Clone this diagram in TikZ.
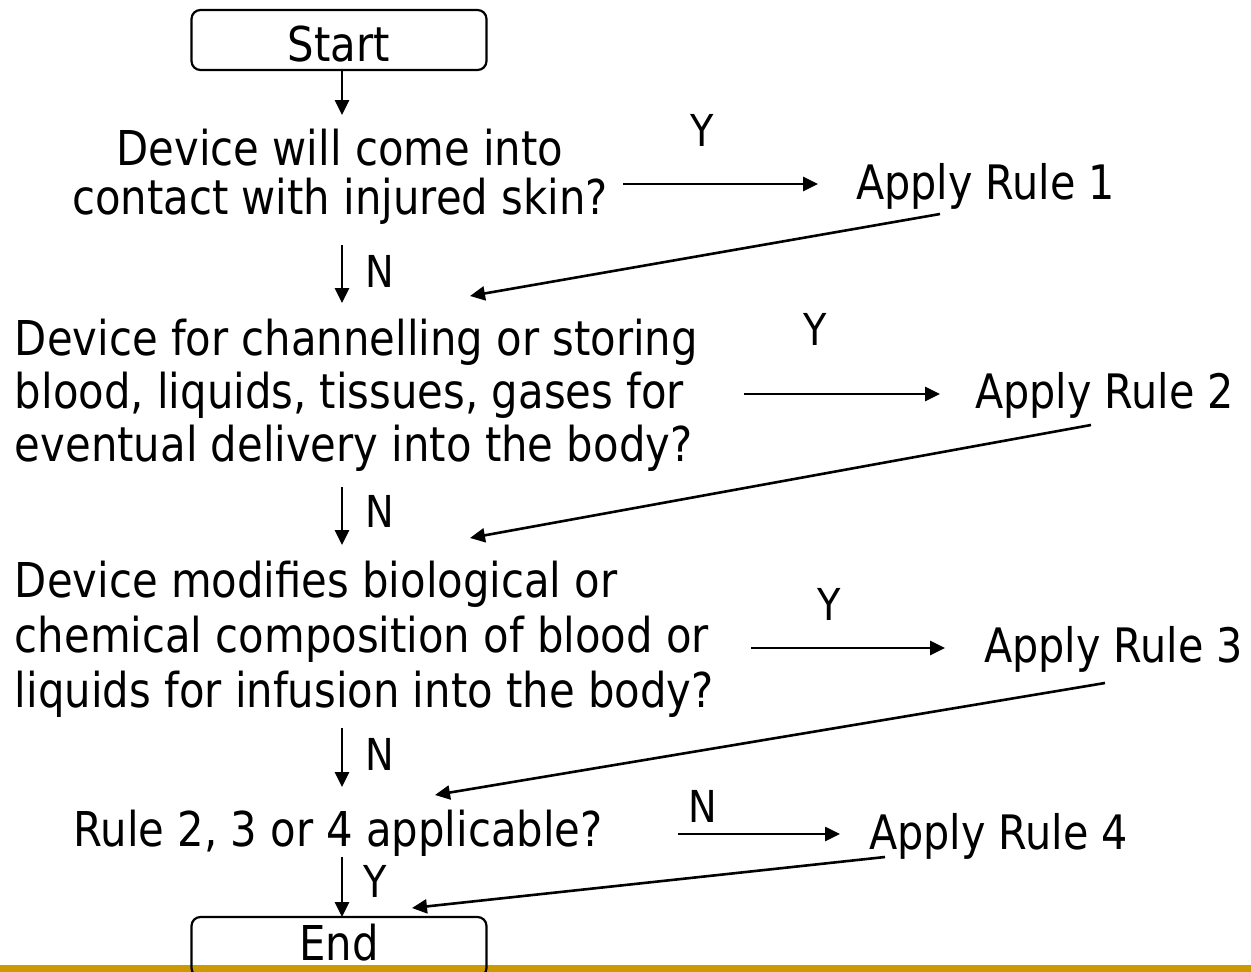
\documentclass[tikz,border=0pt]{standalone}
\usepackage{fontspec}
\setmainfont{DejaVu Sans}[FakeStretch=0.87]
\usetikzlibrary{arrows.meta}
\definecolor{barGold}{RGB}{204,153,0}

\begin{document}
\begin{tikzpicture}[x=1pt,y=-1pt,
  every node/.style={inner sep=0pt, outer sep=0pt},
  flow/.style={line width=2.6pt, -{Triangle[length=15pt,width=14pt]}},
  terminal/.style={draw, line width=2.2pt, rounded corners=9pt,
    minimum width=295pt, minimum height=60pt,
    font=\fontsize{48}{50}\selectfont},
  qtext/.style={font=\fontsize{48}{#1}\selectfont},
  ruletext/.style={font=\fontsize{47.5}{50}\selectfont, anchor=base west},
  lbl/.style={font=\fontsize{44}{46}\selectfont, anchor=base west}
]
\useasboundingbox (0,0) rectangle (1251,972);

% bottom rule of the slide
\fill[barGold] (0,965) rectangle (1251,972);

% terminals
\node[terminal, text height=42pt, text depth=0pt] (start) at (339,40) {Start};
\node[terminal, text height=34pt, text depth=8pt] (end) at (339,947) {End};

% questions (anchored on the baseline of their last line)
\node[qtext=49, align=center, anchor=base] (q1) at (340,214)
  {Device will come into\\contact with injured skin?};
\node[qtext=53, align=left, anchor=base west] (q2) at (15,461)
  {Device for channelling or storing\\blood, liquids, tissues, gases for\\eventual delivery into the body?};
\node[qtext=55, align=left, anchor=base west] (q3) at (15,707)
  {Device modifies biological or\\chemical composition of blood or\\liquids for infusion into the body?};
\node[qtext=50, anchor=base] (q4) at (338,846) {Rule 2, 3 or 4 applicable?};

% outcomes
\node[ruletext] (r1) at (856,199) {Apply Rule 1};
\node[ruletext] (r2) at (975,408) {Apply Rule 2};
\node[ruletext] (r3) at (984,662) {Apply Rule 3};
\node[ruletext] (r4) at (869,849) {Apply Rule 4};

% points on the main column
\coordinate (c0) at (342,115);
\coordinate (c1a) at (342,245);  \coordinate (c1b) at (342,303);
\coordinate (c2a) at (342,487);  \coordinate (c2b) at (342,545);
\coordinate (c3a) at (342,728);  \coordinate (c3b) at (342,787);
\coordinate (c4a) at (342,857);

% return points beside the column
\coordinate (t1) at (470,296);
\coordinate (t2) at (470,538);
\coordinate (t3) at (435,795);
\coordinate (t4) at (412,908);

% main column
\draw[flow] (start.south -| c0) -- (c0);
\draw[flow] (c1a) -- (c1b);
\draw[flow] (c2a) -- (c2b);
\draw[flow] (c3a) -- (c3b);
\draw[flow] (c4a) -- (end.north -| c4a);

\node[lbl] (n1) at (365,287) {N};
\node[lbl] (n2) at (365,527) {N};
\node[lbl] (n3) at (365,770) {N};
\node[lbl] (y4) at (363,897) {Y};

% branches to the rules
\draw[flow] (623,184) -- (818,184);
\node[lbl, anchor=base] (y1) at (702,146) {Y};
\draw[flow] (744,394) -- (940,394);
\node[lbl, anchor=base] (y2) at (815,345) {Y};
\draw[flow] (751,648) -- (945,648);
\node[lbl, anchor=base] (y3) at (829,620) {Y};
\draw[flow] (678,834) -- (840,834);
\node[lbl, anchor=base] (n4) at (703,822) {N};

% returns from the rules
\draw[flow] ([xshift=84pt,yshift=-15pt]r1.base west) -- (t1);
\draw[flow] ([xshift=116pt,yshift=-17pt]r2.base west) -- (t2);
\draw[flow] ([xshift=121pt,yshift=-21pt]r3.base west) -- (t3);
\draw[flow] ([xshift=16pt,yshift=-8pt]r4.base west) -- (t4);
\end{tikzpicture}
\end{document}
